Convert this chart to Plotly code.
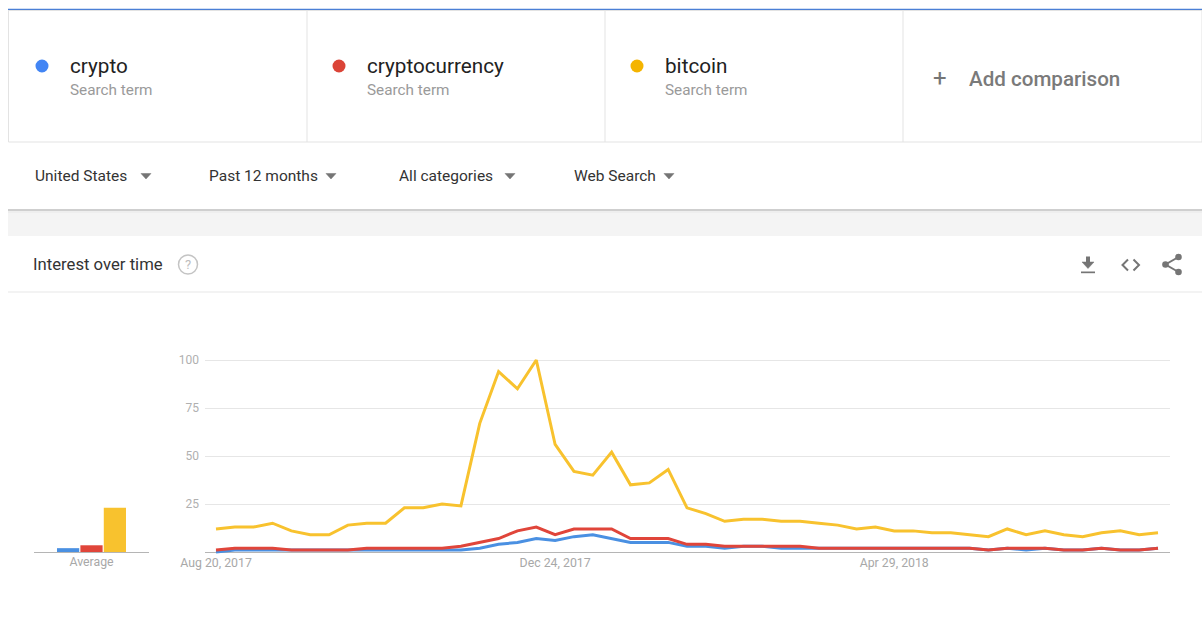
import plotly.graph_objects as go
import pandas as pd

W, H = 1202, 637

# ---------------- data ----------------
terms = ["crypto", "cryptocurrency", "bitcoin"]
dot_colors = ["#4285f4", "#db4437", "#f4b400"]
line_colors = ["#4a90e2", "#e0453a", "#f8c22e"]

weeks = pd.date_range("2017-08-20", periods=51, freq="7D")

crypto = [0, 1, 1, 1, 1, 1, 1, 1, 1, 1, 1, 1, 1, 1, 2, 4, 5, 7, 6, 8,
          9, 7, 5, 5, 5, 3, 3, 2, 3, 3, 2, 2, 2, 2, 2, 2, 2, 2, 2, 2,
          2, 1, 2, 1, 2, 1, 1, 2, 1, 1, 2]
cryptocurrency = [1, 2, 2, 2, 1, 1, 1, 1, 2, 2, 2, 2, 2, 3, 5, 7, 11, 13, 9, 12,
                  12, 12, 7, 7, 7, 4, 4, 3, 3, 3, 3, 3, 2, 2, 2, 2, 2, 2, 2, 2,
                  2, 1, 2, 2, 2, 1, 1, 2, 1, 1, 2]
bitcoin = [12, 13, 13, 15, 11, 9, 9, 14, 15, 15, 23, 23, 25, 24, 67, 94, 85, 100, 56, 42,
           40, 52, 35, 36, 43, 23, 20, 16, 17, 17, 16, 16, 15, 14, 12, 13, 11, 11, 10, 10,
           9, 8, 12, 9, 11, 9, 8, 10, 11, 9, 10]
series = [crypto, cryptocurrency, bitcoin]

averages = [2, 3.5, 23]
avg_label = ["Average"]

tick_dates = ["2017-08-20", "2017-12-24", "2018-04-29"]
tick_texts = ["Aug 20, 2017", "Dec 24, 2017", "Apr 29, 2018"]

filters = ["United States", "Past 12 months", "All categories", "Web Search"]

# ---------------- helpers ----------------
def X(px):
    return px / W

def Y(py):
    return 1 - py / H

FONT = "Roboto, 'Noto Sans', Arial, sans-serif"

fig = go.Figure()

for name, vals, col in zip(terms, series, line_colors):
    fig.add_trace(go.Scatter(
        x=weeks, y=vals, mode="lines", name=name,
        line=dict(color=col, width=3), xaxis="x", yaxis="y",
        showlegend=False, hoverinfo="skip"))

for name, v, col in zip(terms, averages, line_colors):
    fig.add_trace(go.Bar(
        x=avg_label, y=[v], name=name, marker=dict(color=col, line=dict(width=0)),
        xaxis="x2", yaxis="y2", showlegend=False, hoverinfo="skip"))

# y geometry: 0 at 552px, 100 at 360px
ppu = 1.92
ylo, yhi = -1.5, 105
ydom = [Y(552 - ylo * ppu), Y(552 - yhi * ppu)]
# x geometry: first week at 216px, last week at 1158px, plot 205..1170
x_range = ["2017-08-15 21:55", "2018-08-09 11:00"]

fig.update_layout(
    width=W, height=H,
    margin=dict(l=0, r=0, t=0, b=0, pad=0, autoexpand=False),
    paper_bgcolor="white", plot_bgcolor="rgba(0,0,0,0)",
    font=dict(family=FONT),
    barmode="group", bargap=0.39, bargroupgap=0.05,
    xaxis=dict(domain=[X(205), X(1170)], range=x_range, type="date",
               tickvals=tick_dates, ticktext=tick_texts, showgrid=False,
               zeroline=False, showline=False, ticks="", automargin=False,
               ticklabelstandoff=-1,
               tickfont=dict(size=12.3, color="#a8a8a8"), anchor="y",
               fixedrange=True),
    yaxis=dict(domain=ydom, range=[ylo, yhi], tickvals=[25, 50, 75, 100],
               showgrid=True, gridcolor="#e6e6e6", gridwidth=1,
               zeroline=True, zerolinecolor="#b5b5b5", zerolinewidth=1,
               showline=False, ticks="", ticklabelstandoff=5, automargin=False,
               tickfont=dict(size=12, color="#b0b0b0"), anchor="x",
               fixedrange=True),
    xaxis2=dict(domain=[X(34), X(149)], type="category", showgrid=False,
                zeroline=False, showline=False, ticks="", automargin=False,
                ticklabelstandoff=-2,
                tickfont=dict(size=12.3, color="#a8a8a8"), anchor="y2",
                fixedrange=True),
    yaxis2=dict(domain=ydom, range=[ylo, yhi], showgrid=False,
                showticklabels=False, zeroline=True, zerolinecolor="#b5b5b5",
                zerolinewidth=1, anchor="x2", fixedrange=True, automargin=False),
)

shapes = []
ann = []

def line(x0, y0, x1, y1, color, width=1):
    shapes.append(dict(type="line", xref="paper", yref="paper",
                       x0=X(x0), y0=Y(y0), x1=X(x1), y1=Y(y1),
                       line=dict(color=color, width=width), layer="below"))

def rect(x0, y0, x1, y1, fill, lc=None, lw=0):
    shapes.append(dict(type="rect", xref="paper", yref="paper",
                       x0=X(x0), y0=Y(y0), x1=X(x1), y1=Y(y1),
                       fillcolor=fill, line=dict(color=lc or fill, width=lw),
                       layer="below"))

def circle(cx, cy, r, fill, lc=None, lw=0):
    shapes.append(dict(type="circle", xref="paper", yref="paper",
                       x0=X(cx - r), y0=Y(cy + r), x1=X(cx + r), y1=Y(cy - r),
                       fillcolor=fill, line=dict(color=lc or fill, width=lw),
                       layer="above"))

def path(pts, color, fill=None, width=2, closed=False):
    d = "M " + " L ".join(f"{X(a):.5f},{Y(b):.5f}" for a, b in pts)
    if closed:
        d += " Z"
    shapes.append(dict(type="path", xref="paper", yref="paper", path=d,
                       fillcolor=fill if fill else "rgba(0,0,0,0)",
                       line=dict(color=color, width=width), layer="above"))

def text(x, y, s, size, color, anchor="left", weight=None):
    f = dict(size=size, color=color, family=FONT)
    if weight:
        f["weight"] = weight
    if anchor == "left":
        x -= 2  # compensate annotation padding
    ann.append(dict(xref="paper", yref="paper", x=X(x), y=Y(y), text=s,
                    showarrow=False, xanchor=anchor, yanchor="middle", font=f))

# top blue rule and term cards
line(8, 9.5, 1202, 9.5, "#4a7fd6", 1.6)
rect(8.5, 10.5, 1202, 142, "white", "#e3e3e3", 1)
for xd in [307, 605, 903]:
    line(xd, 10.5, xd, 142, "#e3e3e3", 1)

card_x = [42, 339, 637]
for cx, term, dc in zip(card_x, terms, dot_colors):
    circle(cx, 66, 6.5, dc)
    text(cx + 28, 66, term, 20.7, "#222222")
    text(cx + 28, 90, "Search term", 15.3, "#9a9a9a")

text(940, 78, "+", 24, "#757575", anchor="center")
text(969, 79, "Add comparison", 20.6, "#7a7a7a", weight=500)

# filter row
filt_x = [35, 209, 399, 574]
arrow_x = [146, 331, 510, 669]
for fx, ax_, s in zip(filt_x, arrow_x, filters):
    text(fx, 176, s, 15.5, "#333333")
    path([(ax_ - 5, 173.5), (ax_ + 5, 173.5), (ax_, 179)], "#757575",
         fill="#757575", width=0.5, closed=True)

# shadow + grey band
rect(8, 211, 1202, 236, "#f4f4f4")
line(8, 210, 1202, 210, "#cfcfcf", 2)
line(8, 212, 1202, 212, "#ececec", 1.5)

# chart header
text(33, 265, "Interest over time", 16.7, "#333333")
circle(188, 264.5, 9.5, "rgba(0,0,0,0)", "#c4c4c4", 1.5)
text(188, 265, "?", 13, "#bdbdbd", anchor="center")
line(8, 292, 1202, 292, "#e8e8e8", 1.2)

# download icon
icol = "#757575"
path([(1082, 262), (1094, 262), (1088, 268.5)], icol, fill=icol, width=0.5, closed=True)
rect(1086, 256.5, 1090, 262.5, icol)
rect(1081, 271.5, 1095, 273.2, icol)
# code icon
path([(1128, 259.5), (1122.5, 265), (1128, 270.5)], icol, width=2)
path([(1133.5, 259.5), (1139, 265), (1133.5, 270.5)], icol, width=2)
# share icon
path([(1178.5, 257), (1165.5, 264.5), (1178.5, 272)], icol, width=2)
circle(1178.5, 257, 3.3, icol)
circle(1165.5, 264.5, 3.3, icol)
circle(1178.5, 272, 3.3, icol)

fig.update_layout(shapes=shapes, annotations=ann)

fig.write_html("out.html", config={"displayModeBar": False},
               post_script="document.body.style.margin='0';document.body.style.overflow='hidden';")
